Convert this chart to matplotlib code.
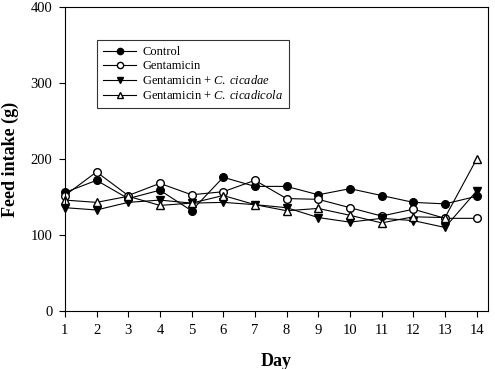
import numpy as np
import matplotlib
matplotlib.use("Agg")
import matplotlib.pyplot as plt

# feed intake per day for each group
days = list(range(1, 15))
control = [156, 172, 148, 159, 132, 176, 164, 164, 153, 161, 152, 143, 141, 151]
gentamicin = [152, 183, 152, 168, 153, 157, 172, 148, 147, 136, 125, 134, 122, 122]
gen_cicadae = [136, 133, 143, 146, 142, 143, 140, 136, 123, 117, 122, 119, 110, 158]
gen_cicadicola = [146, 143, 151, 139, 142, 152, 140, 132, 135, 126, 116, 124, 123, 200]

labels = ["Control", "Gentamicin", "Gentamicin + $\\it{C.\\;cicadae}$",
          "Gentamicin + $\\it{C.\\;cicadicola}$"]

plt.rcParams['font.family'] = ['Liberation Serif', 'DejaVu Serif']
plt.rcParams['mathtext.fontset'] = 'custom'
plt.rcParams['mathtext.it'] = 'Liberation Serif:italic'
plt.rcParams['mathtext.rm'] = 'Liberation Serif'

fig = plt.figure(figsize=(4.95, 3.69), dpi=100)
ax = fig.add_axes([0.131, 0.157, 0.855, 0.824])

#marker styles: filled circle, open circle, filled down triangle, open triangle
ax.plot(days, control, color='black', lw=0.8, marker='o', ms=5.5,
        mfc='black', mec='black', label=labels[0], clip_on=False)
ax.plot(days, gentamicin, color='black', lw=0.8, marker='o', ms=5.5,
        mfc='white', mec='black', label=labels[1], clip_on=False)
ax.plot(days, gen_cicadae, color='black', lw=0.8, marker='v', ms=6,
        mfc='black', mec='black', label=labels[2], clip_on=False)
ax.plot(days, gen_cicadicola, color='black', lw=0.8, marker='^', ms=6,
        mfc='white', mec='black', label=labels[3], clip_on=False)

ax.set_xlim(1, 14.36)
ax.set_ylim(0, 400)
ax.set_xticks(days)
ax.set_yticks([0, 100, 200, 300, 400])
ax.tick_params(direction='out', length=4, width=0.8, labelsize=10.5, pad=5)

ax.set_xlabel("Day", fontsize=13, fontweight='bold', labelpad=12)
ax.set_ylabel("Feed intake (g)", fontsize=13, fontweight='bold', labelpad=8)

for s in ax.spines.values():
    s.set_linewidth(0.8)

leg = ax.legend(loc='upper left', bbox_to_anchor=(0.076, 0.891), fontsize=9,
                frameon=True, fancybox=False, edgecolor='black',
                handlelength=2.6, handletextpad=0.5, labelspacing=0.15,
                borderpad=0.5, borderaxespad=0)
leg.get_frame().set_linewidth(0.8)
for h in leg.legend_handles:
    h.set_markersize(4.5)

fig.savefig("out.png", dpi=100)
